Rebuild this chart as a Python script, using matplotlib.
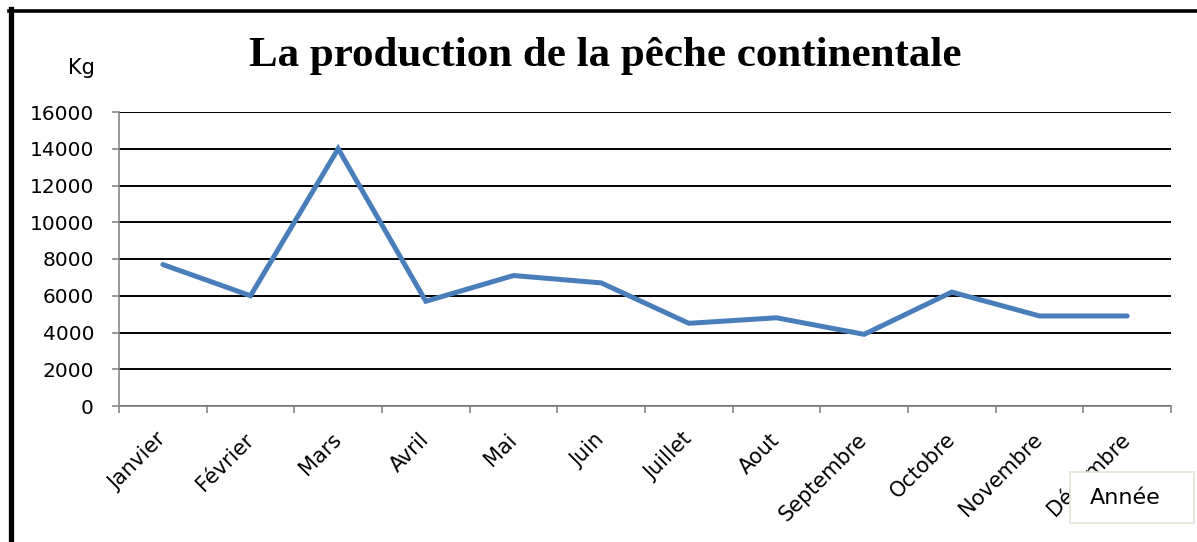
import numpy as np
import matplotlib.pyplot as plt
from matplotlib.lines import Line2D
from matplotlib.patches import Rectangle

mois = ['Janvier', 'Février', 'Mars', 'Avril', 'Mai', 'Juin', 'Juillet',
        'Aout', 'Septembre', 'Octobre', 'Novembre', 'Décembre']
production = [7700, 6000, 14000, 5700, 7100, 6700, 4500, 4800, 3900, 6200, 4900, 4900]
yticks = [0, 2000, 4000, 6000, 8000, 10000, 12000, 14000, 16000]

W, H = 1197, 542
fig = plt.figure(figsize=(W / 100, H / 100), dpi=100)
fig.patch.set_facecolor('white')

# axes placed from pixel measurements of the reference
left, right, top, bottom = 119, 1171, 112, 406
ax = fig.add_axes([left / W, 1 - bottom / H, (right - left) / W, (bottom - top) / H])

x = np.arange(len(mois))
ax.plot(x, production, color='#4a7ebb', lw=3.6, solid_capstyle='round',
        solid_joinstyle='miter', zorder=3)

ax.set_xlim(-0.5, len(mois) - 0.5)
ax.set_ylim(0, 16000)
ax.set_yticks(yticks)
ax.set_yticklabels([str(v) for v in yticks], fontsize=14.5, family='DejaVu Sans')

# category labels at centers, tick marks at boundaries
ax.set_xticks(x)
ax.set_xticklabels(mois, fontsize=15, family='DejaVu Sans', rotation=45,
                   ha='right', va='center', rotation_mode='anchor')
ax.set_xticks(np.arange(-0.5, len(mois)), minor=True)
ax.tick_params(axis='x', which='major', length=0, pad=22)
ax.tick_params(axis='x', which='minor', length=5, width=1.2, color='#868686')
ax.tick_params(axis='y', length=5, width=1.2, color='#868686', pad=13)

ax.grid(axis='y', color='black', lw=1.4)
ax.set_axisbelow(True)
for s in ['top', 'right']:
    ax.spines[s].set_visible(False)
for s in ['left', 'bottom']:
    ax.spines[s].set_color('#868686')
    ax.spines[s].set_linewidth(1.2)
    ax.spines[s].set_zorder(2.5)

fig.text(95 / W, 1 - 68 / H, 'Kg', fontsize=15, family='DejaVu Sans',
         ha='right', va='center')

fig.text(605 / W, 1 - 56 / H, 'La production de la pêche continentale',
         fontsize=31, fontweight='bold', family='Liberation Serif',
         ha='center', va='center')

# "Année" box sitting over the last label
fig.add_artist(Rectangle((1070 / W, 1 - 523 / H), 124 / W, 51 / H,
                         transform=fig.transFigure, fc='white', ec='#e6e2d6',
                         lw=1.2, zorder=5))
fig.text(1125 / W, 1 - 498 / H, 'Année', fontsize=16, family='DejaVu Sans',
         ha='center', va='center', zorder=6)

# outer black frame (right and bottom edges fall outside the picture)
fig.add_artist(Line2D([11 / W, 11 / W], [0, 1 - 9 / H], transform=fig.transFigure,
                      color='black', lw=3.8))
fig.add_artist(Line2D([9 / W, 1], [1 - 11 / H, 1 - 11 / H], transform=fig.transFigure,
                      color='black', lw=2.6))

fig.savefig('out.png', dpi=100)
